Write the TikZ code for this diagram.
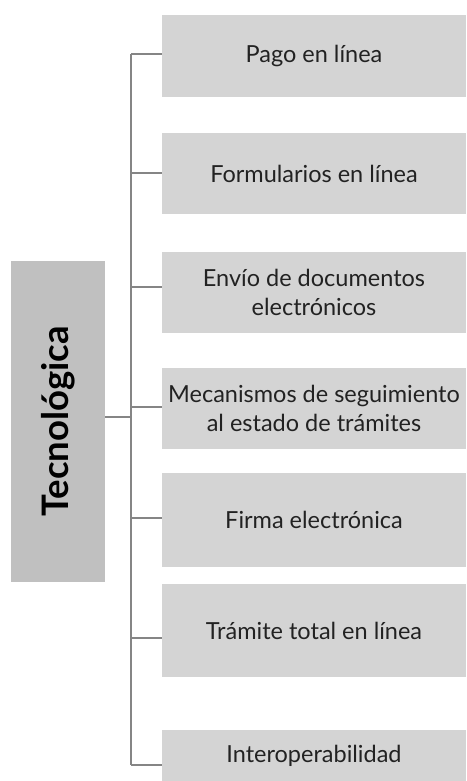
\documentclass[tikz,border=0pt]{standalone}
\usepackage{fontspec}
\setmainfont{Lato}
\usetikzlibrary{positioning}
\definecolor{cajagris}{HTML}{D4D4D4}
\definecolor{tecgris}{HTML}{C0C0C0}
\definecolor{ramagris}{HTML}{858585}
\definecolor{letra}{HTML}{222222}
\tikzstyle{caja} = [fill=cajagris, minimum width=304, inner sep=0pt, align=center, text=letra, font=\fontsize{23.5}{29}\selectfont]
\tikzstyle{rama} = [draw=ramagris, line width=1.1]

\begin{document}
\begin{tikzpicture}[x=1pt,y=-1pt]
	\useasboundingbox (0,0) rectangle (466,781);
	% Main box:
	\node[fill=tecgris, minimum width=94, minimum height=321, inner sep=0pt, text=black,
		font=\fontsize{36.5}{40}\bfseries] (tec) at (58,421.5) {\rotatebox{90}{Tecnológica}};
	% Items:
	\node[caja, minimum height=82] (pago) at (314,56) {Pago en línea};
	\node[caja, minimum height=81] (form) at (314,173.5) {Formularios en línea};
	\node[caja, minimum height=81] (envio) at (314,292.5) {Envío de documentos\\electrónicos};
	\node[caja, minimum height=81] (meca) at (314,408.5) {Mecanismos de seguimiento\\al estado de trámites};
	\node[caja, minimum height=94] (firma) at (314,520) {Firma electrónica};
	\node[caja, minimum height=93] (total) at (314,630.5) {Trámite total en línea};
	\node[caja, minimum height=51] (inter) at (314,755.5) {Interoperabilidad};
	% Trunk:
	\coordinate (r0) at (131,417);
	\coordinate (r1) at (131,54);
	\coordinate (r2) at (131,173);
	\coordinate (r3) at (131,287);
	\coordinate (r4) at (131,407);
	\coordinate (r5) at (131,518);
	\coordinate (r6) at (131,638);
	\coordinate (r7) at (131,765);
	\draw[rama] (r1) -- (r7);
	% Branches:
	\draw[rama] (tec.east |- r0) -- (r0);
	\draw[rama] (r1) -- (r1 -| pago.west);
	\draw[rama] (r2) -- (r2 -| form.west);
	\draw[rama] (r3) -- (r3 -| envio.west);
	\draw[rama] (r4) -- (r4 -| meca.west);
	\draw[rama] (r5) -- (r5 -| firma.west);
	\draw[rama] (r6) -- (r6 -| total.west);
	\draw[rama] (r7) -- (r7 -| inter.west);
\end{tikzpicture}
\end{document}
